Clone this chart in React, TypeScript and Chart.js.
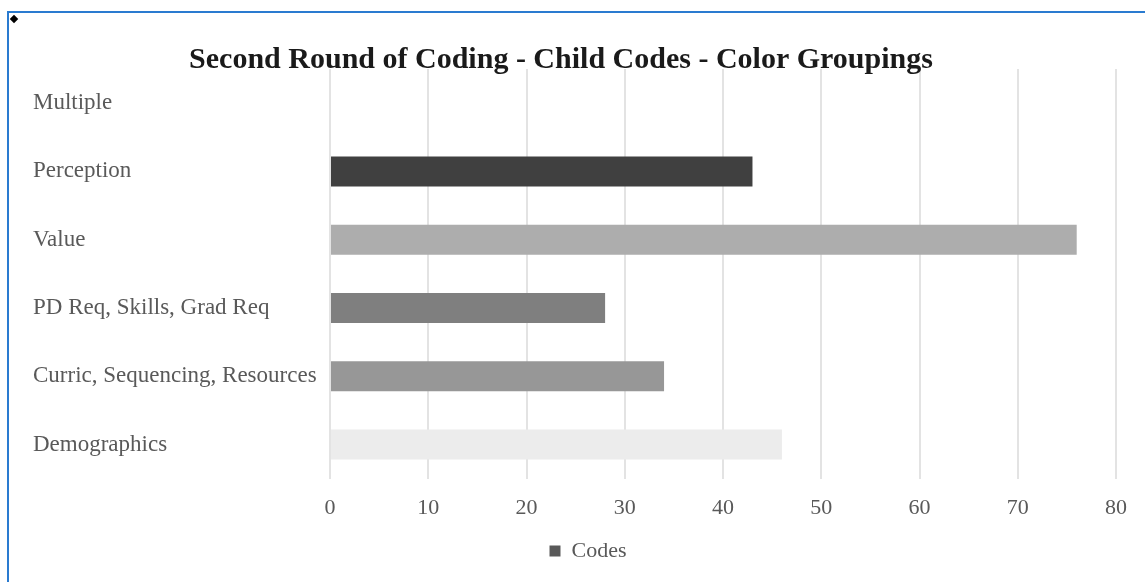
import React, { useEffect, useRef } from "react";
import { Chart, registerables } from "chart.js";

Chart.register(...registerables);

const categories = [
  "Multiple",
  "Perception",
  "Value",
  "PD Req, Skills, Grad Req",
  "Curric, Sequencing, Resources",
  "Demographics",
];
const codes = [0, 43, 76, 28, 34, 46];
const barColors = ["#262626", "#404040", "#adadad", "#7f7f7f", "#979797", "#ececec"];
const xTicks = [0, 10, 20, 30, 40, 50, 60, 70, 80];
const titleText = "Second Round of Coding - Child Codes - Color Groupings";
const seriesName = "Codes";

const titlePlugin = {
  id: "placedTitle",
  afterDraw(chart: any) {
    const ctx = chart.ctx;
    ctx.save();
    ctx.font = "bold 30px 'Liberation Serif', serif";
    ctx.fillStyle = "#1a1a1a";
    ctx.textAlign = "center";
    ctx.textBaseline = "middle";
    ctx.fillText(titleText, 552, 47);
    ctx.restore();
  },
};

export default function App() {
  const ref = useRef<HTMLCanvasElement | null>(null);

  useEffect(() => {
    if (!ref.current) return;
    const chart = new Chart(ref.current, {
      type: "bar",
      data: {
        labels: categories,
        datasets: [
          {
            label: seriesName,
            data: codes,
            backgroundColor: barColors,
            borderWidth: 0,
            categoryPercentage: 1,
            barPercentage: 0.44,
          },
        ],
      },
      plugins: [titlePlugin],
      options: {
        indexAxis: "y",
        responsive: false,
        animation: false,
        maintainAspectRatio: false,
        layout: { padding: { left: 24, right: 0, top: 56, bottom: 9 } },
        plugins: {
          title: { display: false },
          legend: {
            display: true,
            position: "bottom",
            labels: {
              color: "#595959",
              font: { family: "'Liberation Serif', serif", size: 22 },
              boxWidth: 11,
              boxHeight: 11,
              padding: 3,
              generateLabels: () => [
                {
                  text: seriesName,
                  fillStyle: "#595959",
                  strokeStyle: "#595959",
                  fontColor: "#595959",
                  lineWidth: 0,
                  hidden: false,
                  datasetIndex: 0,
                },
              ],
            },
          },
          tooltip: { enabled: false },
        },
        scales: {
          x: {
            type: "linear",
            min: 0,
            max: 80,
            afterBuildTicks: (axis: any) => {
              axis.ticks = xTicks.map((v) => ({ value: v }));
            },
            ticks: {
              color: "#595959",
              font: { family: "'Liberation Serif', serif", size: 22 },
              padding: 16,
            },
            grid: { color: "#e3e3e3", lineWidth: 2, drawTicks: false },
            border: { display: false },
          },
          y: {
            type: "category",
            afterFit: (scale: any) => {
              scale.width = 297;
            },
            ticks: {
              crossAlign: "far",
              color: "#595959",
              font: { family: "'Liberation Serif', serif", size: 23 },
              padding: 8,
            },
            grid: { display: false },
            border: { display: false },
          },
        },
      },
    });
    return () => chart.destroy();
  }, []);

  return (
    <div
      style={{
        position: "fixed",
        left: 0,
        top: 0,
        width: 1145,
        height: 582,
        background: "#ffffff",
        overflow: "hidden",
      }}
    >
      <div
        style={{
          position: "absolute",
          left: 7,
          top: 11,
          width: 1145,
          height: 582,
          borderTop: "2px solid #2a7bd0",
          borderLeft: "2px solid #2a7bd0",
        }}
      />
      <div
        style={{
          position: "absolute",
          left: 11,
          top: 16,
          width: 6,
          height: 6,
          background: "#000",
          transform: "rotate(45deg)",
        }}
      />
      <canvas
        ref={ref}
        width={1134}
        height={568}
        style={{ position: "absolute", left: 9, top: 13 }}
      />
    </div>
  );
}
